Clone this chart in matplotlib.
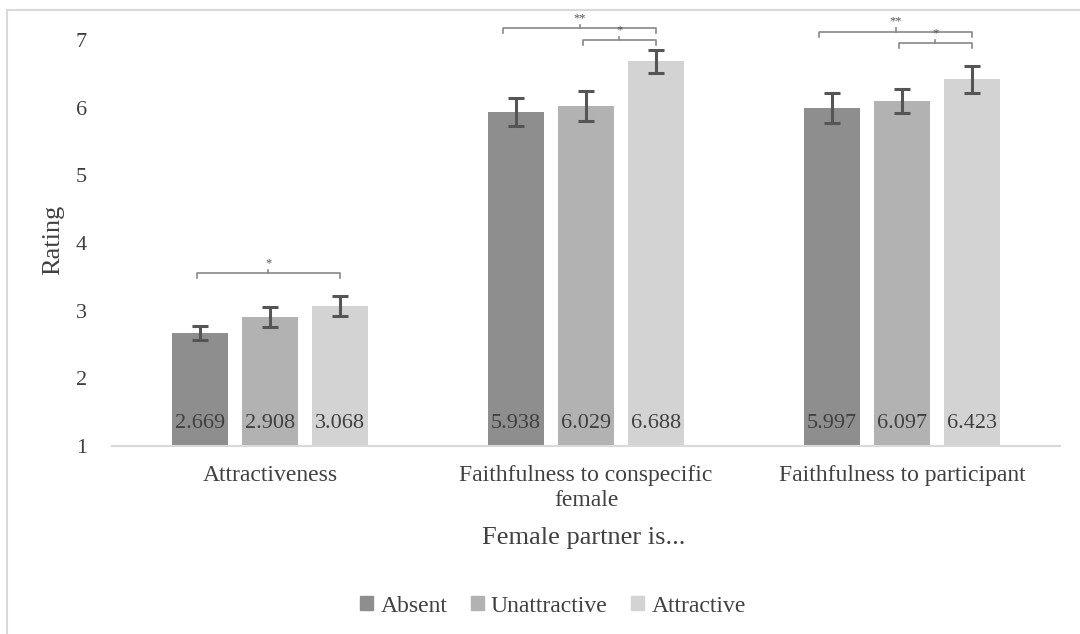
import matplotlib
matplotlib.use("Agg")
import matplotlib.pyplot as plt
import numpy as np
from matplotlib.lines import Line2D

plt.rcParams['font.family'] = ['Liberation Serif', 'DejaVu Serif']

categories = ["Attractiveness", "Faithfulness to conspecific\nfemale", "Faithfulness to participant"]
series = ["Absent", "Unattractive", "Attractive"]
absent = [2.669, 5.938, 5.997]
unattractive = [2.908, 6.029, 6.097]
attractive = [3.068, 6.688, 6.423]
absent_err = [0.10, 0.21, 0.22]
unattractive_err = [0.15, 0.22, 0.18]
attractive_err = [0.15, 0.17, 0.20]
colors = ["#8e8e8e", "#b2b2b2", "#d3d3d3"]

# significance brackets: (category index, series i, series j, level, label)
brackets = [
    (0, 0, 2, 3.55, "*"),
    (1, 0, 2, 7.17, "**"),
    (1, 1, 2, 7.00, "*"),
    (2, 0, 2, 7.12, "**"),
    (2, 1, 2, 6.95, "*"),
]

W, H = 1080, 634
fig = plt.figure(figsize=(W/100, H/100), dpi=100)
ax = fig.add_axes([112/W, 1-446/H, (1060-112)/W, (446-40)/H])

x = np.arange(len(categories))
bw = 0.177
step = 0.222
vals = [absent, unattractive, attractive]
errs = [absent_err, unattractive_err, attractive_err]
for k, (v, e, c, name) in enumerate(zip(vals, errs, colors, series)):
    pos = x + (k-1)*step
    ax.bar(pos, np.array(v)-1, width=bw, bottom=1, color=c, label=name, zorder=2)
    ax.errorbar(pos, v, yerr=e, fmt='none', ecolor='#555555', elinewidth=2.2,
                capsize=6, capthick=2.2, zorder=3)
    for p, val in zip(pos, v):
        ax.text(p, 1.33, f"{val:.3f}", ha='center', va='center', fontsize=16,
                color='#404040', zorder=4)

for ci, i, j, lvl, lab in brackets:
    x1 = x[ci] + (i-1)*step - (0.04 if (ci > 0 and i == 0) else 0.01)
    x2 = x[ci] + (j-1)*step
    d = 0.07
    ax.plot([x1, x1, x2, x2], [lvl-d, lvl, lvl, lvl-d], color='#888888', lw=1.2,
            clip_on=False, zorder=3)
    xm = (x1+x2)/2
    ax.plot([xm, xm], [lvl, lvl+0.05], color='#888888', lw=1.2, clip_on=False)
    ax.text(xm, lvl+0.06, lab, ha='center', va='bottom', fontsize=9,
            color='#555555', clip_on=False)

ax.set_xlim(-0.5, 2.5)
ax.set_ylim(1, 7)
ax.set_yticks(range(1, 8))
ax.set_xticks(x)
ax.set_xticklabels(categories, fontsize=17, color='#404040', linespacing=1.25)
ax.tick_params(axis='y', labelsize=16, labelcolor='#404040', length=0, pad=18)
ax.tick_params(axis='x', length=0, pad=14)
for s in ['top', 'right', 'left']:
    ax.spines[s].set_visible(False)
ax.spines['bottom'].set_color('#d9d9d9')
ax.spines['bottom'].set_linewidth(1.5)

fig.text(53/W, 1-240/H, "Rating", rotation=90, ha='center', va='center',
         fontsize=19, color='#404040')
fig.text(584/W, 1-538/H, "Female partner is...", ha='center', va='center',
         fontsize=19, color='#404040')

handles = [plt.Rectangle((0, 0), 1, 1, color=c) for c in colors]
fig.legend(handles, series, loc='center', bbox_to_anchor=(553/W, 1-606/H), ncol=3,
           frameon=False, fontsize=17, handlelength=0.55, handleheight=0.55,
           handletextpad=0.3, columnspacing=1.0, labelcolor='#404040')

# outer chart border (left and top visible)
fig.add_artist(Line2D([7/W, 7/W], [0, 1-10/H], transform=fig.transFigure,
                      color='#d9d9d9', lw=1.5))
fig.add_artist(Line2D([7/W, 1], [1-10/H, 1-10/H], transform=fig.transFigure,
                      color='#d9d9d9', lw=1.5))

fig.savefig("out.png", dpi=100)
